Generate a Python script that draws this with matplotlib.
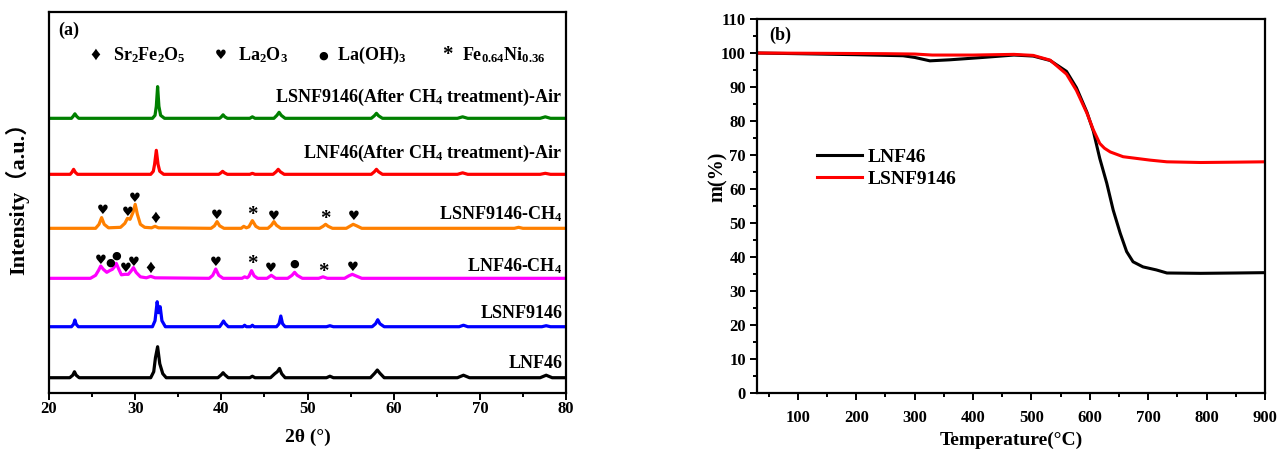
import matplotlib
matplotlib.use("Agg")
import matplotlib.pyplot as plt
from matplotlib.ticker import MultipleLocator

plt.rcParams['font.family'] = ['Liberation Serif', 'DejaVu Serif', 'Noto Sans CJK SC']
plt.rcParams['font.weight'] = 'bold'
plt.rcParams['mathtext.fontset'] = 'custom'
plt.rcParams['mathtext.rm'] = 'Liberation Serif:bold'
plt.rcParams['mathtext.it'] = 'Liberation Serif:bold'
plt.rcParams['mathtext.bf'] = 'Liberation Serif:bold'
plt.rcParams['mathtext.default'] = 'rm'

# ---------------- XRD data (2theta, relative intensity) ----------------
lnf46_x = [20, 22.4, 22.75, 22.95, 23.15, 23.5, 31.8, 32.15, 32.35, 32.6, 32.85, 33.2, 33.6,
           39.6, 40.0, 40.2, 40.4, 40.8, 43.3, 43.6, 43.9, 45.7, 46.2, 46.5, 46.75, 47.0, 47.4,
           52.2, 52.6, 53.0, 57.3, 57.8, 58.1, 58.4, 58.9, 67.4, 68.1, 68.8, 77.0, 77.7, 78.4, 80]
lnf46_y = [0, 0, 2.5, 6, 2.5, 0, 0, 6, 20, 31, 14, 4, 0,
           0, 3, 5, 3, 0, 0, 1.5, 0, 0, 4, 6, 9.3, 4, 0,
           0, 1.5, 0, 0, 4.5, 7.7, 4.5, 0, 0, 2.5, 0, 0, 2.5, 0, 0]

lsnf_x = [20, 22.6, 22.85, 23.0, 23.15, 23.4, 32.0, 32.3, 32.55, 32.72, 32.9, 33.1, 33.5,
          39.8, 40.05, 40.25, 40.45, 40.8, 42.5, 42.7, 42.9, 43.4, 43.6, 43.8,
          46.4, 46.7, 46.9, 47.1, 47.4, 52.2, 52.6, 53.0, 57.5, 57.9, 58.15, 58.4, 58.9,
          67.6, 68.1, 68.6, 77.2, 77.7, 78.2, 80]
lsnf_y = [0, 0, 2.5, 6.7, 2.5, 0, 0, 6, 25, 14, 20, 6, 0,
          0, 3, 5.7, 3, 0, 0, 1.5, 0, 0, 1.5, 0,
          0, 3, 10.7, 3, 0, 0, 1, 0, 0, 3, 7, 3, 0,
          0, 1.5, 0, 0, 1, 0, 0]

lnf46ch4_x = [20, 24.8, 25.4, 25.75, 26.0, 26.3, 26.7, 27.1, 27.35, 27.55, 27.8, 28.1, 28.4, 28.8,
              29.2, 29.5, 29.8, 30.1, 30.6, 31.3, 31.8, 32.3, 38.6, 39.0, 39.35, 39.7, 40.2,
              42.4, 42.7, 43.0, 43.2, 43.5, 43.8, 44.2, 45.3, 45.8, 46.3, 47.7, 48.2, 48.5, 48.8, 49.4,
              51.3, 51.8, 52.3, 54.3, 54.8, 55.2, 55.6, 56.3, 80]
lnf46ch4_y = [0, 0, 3, 8, 12.3, 9, 6, 8, 9, 11, 15, 9, 3.5, 4,
              4, 7, 10.7, 6, 1.5, 0.5, 2, 0.5, 0, 3, 9.3, 3, 0,
              0, 1.5, 0.5, 2, 7.7, 2.5, 0, 0, 3, 0, 0, 3, 6, 3, 0,
              0, 1.5, 0, 0, 2.5, 4, 2.5, 0, 0]

lsnfch4_x = [20, 25.4, 25.8, 26.1, 26.4, 26.9, 28.3, 28.8, 29.1, 29.4, 29.75, 30.0, 30.25, 30.6, 31.1,
             31.9, 32.3, 32.7, 38.8, 39.2, 39.5, 39.8, 40.3, 42.3, 42.6, 42.9, 43.2, 43.6, 44.0, 44.4,
             45.4, 45.8, 46.1, 46.4, 46.9, 51.4, 51.8, 52.1, 52.4, 52.9, 54.5, 55.0, 55.3, 55.7, 56.3,
             74.0, 74.5, 75.0, 80]
lsnfch4_y = [0, 0, 4, 10.7, 4, 0.5, 1, 5, 10, 9, 16, 24, 14, 4, 1,
             0.5, 2, 0.5, 0, 2.5, 6.7, 2.5, 0, 0, 2, 0.5, 1.5, 7.7, 2, 0,
             0, 3, 6.7, 3, 0, 0, 2, 4, 2, 0, 0, 2.5, 4, 2.5, 0,
             0, 1, 0, 0]

lnf46air_x = [20, 22.45, 22.65, 22.85, 23.05, 23.3, 31.8, 32.1, 32.25, 32.45, 32.65, 32.85, 33.3,
              39.7, 39.95, 40.15, 40.35, 40.7, 43.3, 43.6, 43.9, 46.0, 46.35, 46.6, 46.85, 47.3,
              57.4, 57.75, 58.0, 58.25, 58.7, 67.4, 68.0, 68.6, 77.0, 77.6, 78.2, 80]
lnf46air_y = [0, 0, 2, 5, 2, 0, 0, 3, 10, 24, 10, 3, 0,
              0, 1.5, 3, 1.5, 0, 0, 1, 0, 0, 2.5, 5, 2.5, 0,
              0, 2.5, 5, 2.5, 0, 0, 1.5, 0, 0, 1, 0, 0]

lsnfair_x = [20, 22.6, 22.8, 23.0, 23.2, 23.45, 32.0, 32.3, 32.45, 32.6, 32.75, 32.95, 33.4,
             39.8, 40.0, 40.2, 40.4, 40.7, 43.3, 43.6, 43.9, 46.1, 46.45, 46.7, 46.95, 47.4,
             57.4, 57.75, 58.0, 58.25, 58.7, 67.4, 68.0, 68.6, 77.0, 77.6, 78.2, 80]
lsnfair_y = [0, 0, 2, 4.5, 2, 0, 0, 3, 12, 31.7, 12, 3, 0,
             0, 1.5, 3.5, 1.5, 0, 0, 1.5, 0, 0, 3, 6, 3, 0,
             0, 2.5, 5, 2.5, 0, 0, 1.5, 0, 0, 1.5, 0, 0]

xrd_names = ['LNF46', 'LSNF9146', 'LNF46-CH$_4$', 'LSNF9146-CH$_4$',
             'LNF46(After CH$_4$ treatment)-Air', 'LSNF9146(After CH$_4$ treatment)-Air']
xrd_x = [lnf46_x, lsnf_x, lnf46ch4_x, lsnfch4_x, lnf46air_x, lsnfair_x]
xrd_y = [lnf46_y, lsnf_y, lnf46ch4_y, lsnfch4_y, lnf46air_y, lsnfair_y]
xrd_offsets = [15.3, 66.3, 114.7, 164.7, 218.7, 274.7]
xrd_label_y = [30, 80, 127, 179, 240, 296]
xrd_colors = ['#000000', '#0000ff', '#ff00ff', '#ff8000', '#ff0000', '#008000']

# phase markers: (2theta, height, symbol)
mark_x = [26.2, 29.1, 30.0, 32.3, 39.5, 43.6, 46.1, 52.1, 55.4,
          26.0, 27.1, 27.8, 28.9, 29.8, 31.8, 39.3, 43.6, 45.7, 48.5, 51.8, 55.2]
mark_y = [183, 181, 195, 175, 178, 178, 177, 174, 177,
          133, 130, 137, 125, 131, 125, 131, 129, 125, 129, 121, 126]
mark_s = ['♥', '♥', '♥', '♦', '♥', '*', '♥', '*', '♥',
          '♥', '●', '●', '♥', '♥', '♦', '♥', '*', '♥', '●', '*', '♥']

legend_sym = ['♦', '♥', '●', '*']
legend_txt = ['Sr$_2$Fe$_2$O$_5$', 'La$_2$O$_3$', 'La(OH)$_3$', 'Fe$_{0.64}$Ni$_{0.36}$']
legend_sym_x = [0.090, 0.333, 0.530, 0.770]
legend_txt_x = [0.123, 0.365, 0.557, 0.799]

# ---------------- TGA data ----------------
t_lnf46 = [30, 100, 200, 280, 300, 326, 360, 417, 470, 503, 532, 560, 577, 595, 606, 617, 629,
           640, 652, 663, 674, 691, 714, 732, 790, 850, 900]
m_lnf46 = [100.0, 99.8, 99.5, 99.2, 98.7, 97.7, 98.0, 98.7, 99.4, 99.1, 97.8, 94.6, 89.8, 82.6,
           77.0, 69.0, 61.7, 53.8, 47.0, 41.6, 38.6, 37.1, 36.2, 35.3, 35.2, 35.3, 35.4]
t_lsnf = [30, 150, 250, 300, 330, 400, 470, 503, 532, 560, 577, 595, 606, 617, 625, 635, 657,
          680, 703, 732, 790, 850, 900]
m_lsnf = [100.0, 99.9, 99.8, 99.7, 99.4, 99.4, 99.6, 99.3, 97.9, 93.8, 89.0, 82.3, 77.4, 73.4,
          72.0, 70.9, 69.5, 69.0, 68.5, 68.0, 67.8, 67.9, 68.0]

SYM_FAM = {'♥': 'DejaVu Sans', '♦': 'Liberation Serif', '●': 'DejaVu Sans', '*': 'Liberation Serif'}
SYM_SIZE = {'♥': 9.5, '♦': 14, '●': 8, '*': 15}

fig = plt.figure(figsize=(12.84, 4.57), dpi=100)
ax1 = fig.add_axes([0.0382, 0.140, 0.4026, 0.8337])
ax2 = fig.add_axes([0.5896, 0.140, 0.3956, 0.8184])

for ax in (ax1, ax2):
    for sp in ax.spines.values():
        sp.set_linewidth(1.6)
    ax.tick_params(which='both', direction='out', width=1.4, labelsize=12)
    ax.tick_params(which='major', length=5)
    ax.tick_params(which='minor', length=3)

# ---- panel (a)
for xs, ys, off, col in zip(xrd_x, xrd_y, xrd_offsets, xrd_colors):
    ax1.plot(xs, [v + off for v in ys], color=col, lw=2.3, solid_joinstyle='round')
for name, ly in zip(xrd_names, xrd_label_y):
    ax1.text(79.6, ly, name, ha='right', va='center', fontsize=13, fontweight='bold')

for x, y, s in zip(mark_x, mark_y, mark_s):
    ax1.text(x, y, s, ha='center', va='center', fontsize=SYM_SIZE[s],
             family=[SYM_FAM[s], 'DejaVu Sans'])

for sx, tx, s, t in zip(legend_sym_x, legend_txt_x, legend_sym, legend_txt):
    ax1.text(sx, 0.886, s, transform=ax1.transAxes, ha='center', va='center',
             fontsize=SYM_SIZE[s], family=[SYM_FAM[s], 'DejaVu Sans'])
    ax1.text(tx, 0.886, t, transform=ax1.transAxes, ha='left', va='center', fontsize=13)

ax1.text(0.017, 0.953, '(a)', transform=ax1.transAxes, ha='left', va='center', fontsize=13)
ax1.set_xlim(20, 80)
ax1.set_ylim(0, 381)
ax1.set_yticks([])
ax1.xaxis.set_major_locator(MultipleLocator(10))
ax1.xaxis.set_minor_locator(MultipleLocator(5))
ax1.tick_params(axis='x', pad=1)
ax1.set_xlabel('2θ (°)', fontsize=14, fontweight='bold', labelpad=8)
ax1.set_ylabel('Intensity（a.u.）', fontsize=16, fontweight='bold',
               family=['Liberation Serif', 'Noto Sans CJK SC'])
ax1.yaxis.set_label_coords(-0.038, 0.524)

# ---- panel (b)
ax2.plot(t_lnf46, m_lnf46, color='black', lw=2.2, label='LNF46')
ax2.plot(t_lsnf, m_lsnf, color='#ff0000', lw=2.2, label='LSNF9146')
ax2.set_xlim(30, 900)
ax2.set_ylim(0, 110)
ax2.xaxis.set_major_locator(MultipleLocator(100))
ax2.xaxis.set_minor_locator(MultipleLocator(50))
ax2.yaxis.set_major_locator(MultipleLocator(10))
ax2.yaxis.set_minor_locator(MultipleLocator(5))
ax2.tick_params(axis='x', pad=7)
ax2.tick_params(axis='y', pad=3)
ax2.set_xlabel('Temperature(°C)', fontsize=14, fontweight='bold', labelpad=4)
ax2.set_ylabel('m(%)', fontsize=14.5, fontweight='bold')
ax2.yaxis.set_label_coords(-0.058, 0.579)
ax2.text(0.024, 0.955, '(b)', transform=ax2.transAxes, ha='left', va='center', fontsize=13)
ax2.legend(loc='upper left', bbox_to_anchor=(0.118, 0.655), frameon=False,
           handlelength=2.3, handletextpad=0.3, labelspacing=0.25, borderpad=0, borderaxespad=0,
           prop={'weight': 'bold', 'size': 14})

for lab in ax1.get_xticklabels() + ax2.get_xticklabels() + ax2.get_yticklabels():
    lab.set_fontweight('bold')

fig.savefig('out.png', dpi=100)
